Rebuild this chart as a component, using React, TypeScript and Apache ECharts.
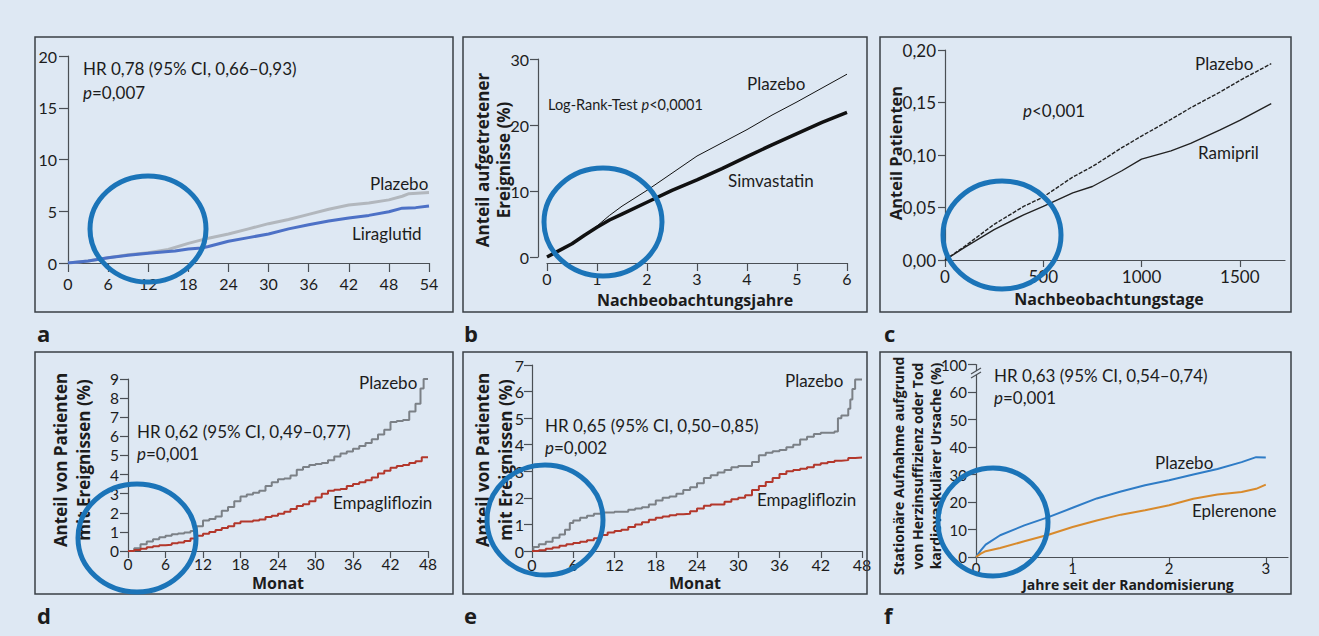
import React, { useEffect, useRef } from "react";
import * as echarts from "echarts";

const FONT = "Lato, 'Noto Sans', sans-serif";
const BOLDFONT = "'Open Sans', 'Noto Sans', sans-serif";
const BG = "#dee8f3";

// ---- Panel a (Monate) ----
const aPlazeboX = [0, 3, 6, 9, 12, 15, 18, 21, 24, 27, 30, 33, 36, 39, 42, 45, 48, 50, 51, 54];
const aPlazeboY = [0, 0.2, 0.5, 0.8, 1.0, 1.3, 1.9, 2.4, 2.8, 3.3, 3.8, 4.2, 4.7, 5.2, 5.6, 5.8, 6.1, 6.45, 6.7, 6.8];
const aLiraX = [0, 3, 6, 9, 12, 15, 16, 18, 20, 21, 24, 27, 30, 33, 36, 39, 42, 45, 48, 50, 52, 54];
const aLiraY = [0, 0.2, 0.5, 0.75, 0.95, 1.1, 1.15, 1.35, 1.45, 1.6, 2.1, 2.45, 2.8, 3.3, 3.7, 4.05, 4.35, 4.6, 4.95, 5.3, 5.35, 5.5];
const aXTicks = { min: 0, max: 54, interval: 6 };
const aYTicks = { min: 0, max: 20, interval: 5 };

// ---- Panel b (Jahre) ----
const bYears = [0, 0.25, 0.5, 0.75, 1, 1.25, 1.5, 2, 2.5, 3, 3.5, 4, 4.5, 5, 5.5, 6];
const bPlazebo = [0, 1.0, 2.0, 3.3, 4.7, 6.3, 7.7, 10.1, 12.7, 15.3, 17.3, 19.3, 21.5, 23.5, 25.6, 27.7];
const bSimva = [0, 1.0, 2.0, 3.3, 4.5, 5.6, 6.5, 8.3, 10.1, 11.7, 13.4, 15.2, 17.0, 18.7, 20.4, 21.9];

// ---- Panel c (Tage) ----
const cDays = [0, 100, 250, 400, 500, 650, 750, 900, 1000, 1150, 1250, 1400, 1500, 1660];
const cPlazebo = [0, 0.013, 0.034, 0.051, 0.060, 0.079, 0.089, 0.107, 0.118, 0.134, 0.145, 0.160, 0.171, 0.187];
const cRamipril = [0, 0.012, 0.029, 0.043, 0.051, 0.064, 0.070, 0.085, 0.096, 0.104, 0.111, 0.124, 0.133, 0.149];

// ---- Panel d (Monat, Stufen) ----
const dPlazeboX = [0, 1, 2, 3, 4, 5, 6, 7, 8, 9, 10, 11, 12, 13, 14, 15, 16, 17, 18, 19, 20, 21, 22, 23, 24, 25, 26, 27, 28, 29, 30, 31, 32, 33, 34, 35, 36, 37, 38, 39, 40, 41, 42, 43, 44, 45, 46, 46.8, 47.3, 48];
const dPlazeboY = [0, 0.15, 0.35, 0.5, 0.62, 0.72, 0.8, 0.88, 0.92, 0.97, 1.05, 1.3, 1.6, 1.68, 1.8, 2.1, 2.3, 2.6, 2.85, 2.95, 3.05, 3.15, 3.4, 3.6, 3.75, 3.8, 3.95, 4.25, 4.4, 4.5, 4.55, 4.6, 4.75, 4.95, 5.1, 5.2, 5.35, 5.5, 5.65, 5.85, 6.1, 6.35, 6.75, 6.8, 6.85, 7.3, 7.7, 8.5, 9.0, 9.0];
const dEmpaX = [0, 1, 2, 3, 4, 5, 6, 7, 8, 9, 10, 11, 12, 13, 14, 15, 16, 17, 18, 19, 20, 21, 22, 23, 24, 25, 26, 27, 28, 29, 30, 31, 32, 33, 34, 35, 36, 37, 38, 39, 40, 41, 42, 43, 44, 45, 46, 47, 48];
const dEmpaY = [0, 0.05, 0.12, 0.2, 0.25, 0.3, 0.33, 0.4, 0.45, 0.52, 0.65, 0.8, 0.9, 1.0, 1.1, 1.2, 1.3, 1.45, 1.55, 1.55, 1.6, 1.65, 1.78, 1.85, 1.95, 2.05, 2.2, 2.35, 2.45, 2.6, 2.8, 3.0, 3.15, 3.2, 3.25, 3.4, 3.5, 3.6, 3.7, 3.85, 4.05, 4.2, 4.35, 4.45, 4.5, 4.6, 4.7, 4.9, 4.9];

// ---- Panel e (Monat, Stufen) ----
const ePlazeboX = [0, 0.2, 1, 2, 3, 4, 4.8, 5.5, 6, 7, 8, 9, 10, 12, 14, 15, 16, 17, 18, 19, 20, 21, 22, 23, 24, 25, 26, 27, 28, 29, 30, 31, 32, 33, 34, 35, 36, 37, 38, 39, 40, 41, 42, 43, 44, 44.5, 45, 46, 46.3, 46.6, 47, 48];
const ePlazeboY = [0, 0.15, 0.25, 0.35, 0.5, 0.62, 0.8, 1.05, 1.15, 1.25, 1.33, 1.4, 1.45, 1.48, 1.55, 1.6, 1.65, 1.75, 1.9, 2.0, 2.05, 2.15, 2.3, 2.4, 2.55, 2.75, 2.85, 2.95, 3.05, 3.15, 3.2, 3.2, 3.35, 3.6, 3.7, 3.75, 3.8, 3.9, 4.0, 4.2, 4.3, 4.4, 4.45, 4.45, 4.5, 5.0, 5.1, 5.35, 5.7, 6.1, 6.45, 6.45];
const eEmpaX = [0, 1, 2, 3, 4, 5, 6, 7, 8, 9, 10, 11, 12, 13, 14, 15, 16, 17, 18, 19, 20, 21, 22, 23, 24, 25, 26, 27, 28, 29, 30, 31, 32, 33, 34, 35, 36, 37, 38, 39, 40, 41, 42, 43, 44, 45, 46, 47, 48];
const eEmpaY = [0, 0.03, 0.08, 0.13, 0.2, 0.25, 0.3, 0.35, 0.4, 0.48, 0.6, 0.7, 0.75, 0.8, 0.9, 1.0, 1.08, 1.18, 1.25, 1.3, 1.35, 1.38, 1.4, 1.5, 1.6, 1.7, 1.75, 1.75, 1.85, 1.95, 2.0, 2.1, 2.3, 2.45, 2.6, 2.75, 2.9, 3.0, 3.05, 3.1, 3.15, 3.25, 3.3, 3.35, 3.4, 3.42, 3.5, 3.52, 3.52];

// ---- Panel f (Jahre) ----
const fYears = [0, 0.05, 0.1, 0.25, 0.5, 0.75, 1, 1.25, 1.5, 1.75, 2, 2.25, 2.5, 2.75, 2.9, 3];
const fPlazebo = [0, 2.4, 4.5, 7.9, 11.5, 14.5, 17.9, 21.3, 23.8, 26.1, 27.9, 30, 32, 34.5, 36.3, 36.2];
const fEplerenone = [0, 1.2, 2.1, 3.3, 5.7, 8.1, 10.9, 13.3, 15.4, 17, 18.8, 21.2, 22.7, 23.6, 24.8, 26.3];
const fTopTickLabel = "100";

const pairs = (xs: number[], ys: number[]) => xs.map((x, i) => [x, ys[i]]);

const AXIS_COLOR = "#4a4f55";
const TEXT_COLOR = "#1c1c1c";

function axis(gridIndex: number, min: number, max: number, interval: number, o: any = {}) {
  return {
    type: "value",
    gridIndex,
    min,
    max,
    interval,
    offset: o.offset || 0,
    axisLine: { show: true, onZero: false, lineStyle: { color: AXIS_COLOR, width: 1.2 } },
    axisTick: { show: true, length: o.tick || 8, lineStyle: { color: AXIS_COLOR, width: 1.2 } },
    axisLabel: {
      color: TEXT_COLOR,
      fontSize: o.fontSize || 15,
      fontFamily: FONT,
      margin: o.margin || 10,
      formatter: o.formatter || ((v: number) => String(v)),
      showMaxLabel: o.showMax === undefined ? true : o.showMax,
    },
    splitLine: { show: false },
  };
}

function line(xi: number, data: number[][], color: string, width: number, o: any = {}) {
  return {
    type: "line",
    xAxisIndex: xi,
    yAxisIndex: xi,
    data,
    symbol: "none",
    showSymbol: false,
    step: o.step || false,
    lineStyle: { color, width, type: o.dash || "solid" },
    z: 3,
  };
}

function txt(text: string, x: number, y: number, o: any = {}) {
  const size = o.size || 17;
  const fam = o.bold ? BOLDFONT : FONT;
  return {
    type: "text",
    x,
    y,
    rotation: o.rot || 0,
    z: 50,
    silent: true,
    style: {
      text,
      fill: TEXT_COLOR,
      fontSize: size,
      fontFamily: fam,
      fontWeight: o.bold ? "bold" : "normal",
      lineHeight: size,
      align: o.align || "left",
      verticalAlign: "middle",
      rich: {
        i: { fontStyle: "italic", fontSize: size, fontFamily: fam, fill: TEXT_COLOR, lineHeight: size },
        n: { fontSize: size, fontFamily: fam, fill: TEXT_COLOR, lineHeight: size },
      },
    },
  };
}

function box(x: number, y: number, w: number, h: number) {
  return {
    type: "rect",
    z: 1,
    silent: true,
    shape: { x, y, width: w, height: h },
    style: { fill: "none", stroke: "#3a3f45", lineWidth: 1.5 },
  };
}

function ring(cx: number, cy: number, rx: number, ry: number) {
  return {
    type: "ellipse",
    z: 100,
    silent: true,
    shape: { cx, cy, rx, ry },
    style: { fill: "none", stroke: "#1b74b8", lineWidth: 5 },
  };
}

const ROT = Math.PI / 2;

export default function App() {
  const ref = useRef<HTMLDivElement>(null);
  useEffect(() => {
    if (!ref.current) return;
    const chart = echarts.init(ref.current, undefined, { renderer: "svg" });
    const comma2 = (v: number) => v.toFixed(2).replace(".", ",");
    const option: any = {
      animation: false,
      backgroundColor: BG,
      grid: [
        { left: 68, top: 56, width: 361, height: 207 },
        { left: 547, top: 59, width: 300, height: 198 },
        { left: 945, top: 50, width: 340, height: 210 },
        { left: 128, top: 379, width: 300, height: 172 },
        { left: 532, top: 365, width: 330, height: 186 },
        { left: 976, top: 364.5, width: 312, height: 192.5 },
      ],
      xAxis: [
        axis(0, aXTicks.min, aXTicks.max, aXTicks.interval, { margin: 12, tick: 9, fontSize: 16 }),
        axis(1, 0, 6, 1, { offset: 6, margin: 7, fontSize: 16 }),
        axis(2, 0, 1730, 500, { margin: 8, tick: 7, showMax: false, fontSize: 17 }),
        axis(3, 0, 48, 6, { margin: 5, tick: 7, fontSize: 15.5 }),
        axis(4, 0, 48, 6, { margin: 5, tick: 7, fontSize: 16 }),
        axis(5, 0, 3.23, 1, { margin: 3, tick: 7, showMax: false, fontSize: 15 }),
      ],
      yAxis: [
        axis(0, aYTicks.min, aYTicks.max, aYTicks.interval, { margin: 11, tick: 9, fontSize: 16 }),
        axis(1, 0, 30, 10, { offset: 9, margin: 9, fontSize: 16 }),
        axis(2, 0, 0.2, 0.05, { margin: 9, tick: 7, formatter: comma2, fontSize: 17 }),
        axis(3, 0, 9, 1, { margin: 9, fontSize: 15.5 }),
        axis(4, 0, 7, 1, { margin: 8, fontSize: 16 }),
        axis(5, 0, 70, 10, {
          margin: 9,
          fontSize: 15,
          formatter: (v: number) => (v === 70 ? fTopTickLabel : String(v)),
        }),
      ],
      series: [
        line(0, pairs(aPlazeboX, aPlazeboY), "#b2b7bd", 3),
        line(0, pairs(aLiraX, aLiraY), "#4d71c6", 3),
        line(1, pairs(bYears, bPlazebo), "#111", 1),
        line(1, pairs(bYears, bSimva), "#111", 3.5),
        line(2, pairs(cDays, cPlazebo), "#222", 1.4, { dash: [4, 1.5] }),
        line(2, pairs(cDays, cRamipril), "#222", 1.4),
        line(3, pairs(dPlazeboX, dPlazeboY), "#7b8086", 2, { step: "end" }),
        line(3, pairs(dEmpaX, dEmpaY), "#b3372b", 2, { step: "end" }),
        line(4, pairs(ePlazeboX, ePlazeboY), "#7b8086", 2, { step: "end" }),
        line(4, pairs(eEmpaX, eEmpaY), "#b3372b", 2, { step: "end" }),
        line(5, pairs(fYears, fPlazebo), "#2f7cc6", 2),
        line(5, pairs(fYears, fEplerenone), "#d88a2c", 2),
      ],
      graphic: [
        box(35, 37, 418, 275),
        box(463, 37, 404, 275),
        box(880, 37, 411, 275),
        box(35, 352, 418, 242),
        box(463, 352, 404, 242),
        box(880, 352, 411, 242),
        // panel letters
        txt("a", 37, 333, { bold: true, size: 22 }),
        txt("b", 464, 333, { bold: true, size: 22 }),
        txt("c", 884, 333, { bold: true, size: 22 }),
        txt("d", 37, 615, { bold: true, size: 22 }),
        txt("e", 464, 615, { bold: true, size: 22 }),
        txt("f", 884, 615, { bold: true, size: 22 }),
        // panel a
        txt("HR 0,78 (95% CI, 0,66–0,93)", 83, 68),
        txt("{i|p}{n|=0,007}", 83, 92),
        txt("Plazebo", 370, 183),
        txt("Liraglutid", 352, 233),
        // panel b
        txt("{n|Log-Rank-Test }{i|p}{n|<0,0001}", 548, 104, { size: 14.5 }),
        txt("Plazebo", 747, 83),
        txt("Simvastatin", 728, 180),
        txt("Anteil aufgetretener", 482, 160, { bold: true, size: 17, rot: ROT, align: "center" }),
        txt("Ereignisse (%)", 503, 160, { bold: true, size: 17, rot: ROT, align: "center" }),
        txt("Nachbeobachtungsjahre", 695, 300, { bold: true, size: 16, align: "center" }),
        // panel c
        txt("{i|p}{n|<0,001}", 1023, 110),
        txt("Plazebo", 1195, 63),
        txt("Ramipril", 1198, 152),
        txt("Anteil Patienten", 895, 153, { bold: true, size: 16.5, rot: ROT, align: "center" }),
        txt("Nachbeobachtungstage", 1109, 299, { bold: true, size: 16, align: "center" }),
        // panel d
        txt("HR 0,62 (95% CI, 0,49–0,77)", 137, 431),
        txt("{i|p}{n|=0,001}", 137, 453),
        txt("Plazebo", 359, 382),
        txt("Empagliflozin", 333, 502),
        txt("Anteil von Patienten", 60, 460, { bold: true, size: 17, rot: ROT, align: "center" }),
        txt("mit Ereignissen (%)", 83, 460, { bold: true, size: 17, rot: ROT, align: "center" }),
        txt("Monat", 278, 583, { bold: true, size: 16, align: "center" }),
        // panel e
        txt("HR 0,65 (95% CI, 0,50–0,85)", 545, 425),
        txt("{i|p}{n|=0,002}", 545, 447),
        txt("Plazebo", 785, 380),
        txt("Empagliflozin", 757, 499),
        txt("Anteil von Patienten", 482, 460, { bold: true, size: 17, rot: ROT, align: "center" }),
        txt("mit Ereignissen (%)", 505, 460, { bold: true, size: 17, rot: ROT, align: "center" }),
        txt("Monat", 695, 583, { bold: true, size: 16, align: "center" }),
        // panel f
        txt("HR 0,63 (95% CI, 0,54–0,74)", 994, 375),
        txt("{i|p}{n|=0,001}", 994, 397),
        txt("Plazebo", 1155, 462),
        txt("Eplerenone", 1192, 510),
        txt("Stationäre Aufnahme aufgrund", 898, 466, { bold: true, size: 14, rot: ROT, align: "center" }),
        txt("von Herzinsuffizienz oder Tod", 917, 466, { bold: true, size: 14, rot: ROT, align: "center" }),
        txt("kardiovaskulärer Ursache (%)", 935, 466, { bold: true, size: 14, rot: ROT, align: "center" }),
        txt("Jahre seit der Randomisierung", 1128, 584, { bold: true, size: 14, align: "center" }),
        // axis break marks on f
        { type: "rect", z: 20, silent: true, shape: { x: 973, y: 371, width: 6, height: 4 }, style: { fill: BG } },
        { type: "line", z: 21, silent: true, shape: { x1: 971, y1: 374, x2: 981, y2: 368 }, style: { stroke: AXIS_COLOR, lineWidth: 1.2 } },
        { type: "line", z: 21, silent: true, shape: { x1: 971, y1: 378, x2: 981, y2: 372 }, style: { stroke: AXIS_COLOR, lineWidth: 1.2 } },
        // highlight rings
        ring(148, 229, 58, 53),
        ring(603, 222, 59, 54),
        ring(1002, 235, 59, 54),
        ring(137, 538, 59, 54),
        ring(545, 520, 58, 55),
        ring(993, 522, 55, 54),
      ],
    };
    chart.setOption(option);
    return () => chart.dispose();
  }, []);
  return (
    <div
      ref={ref}
      style={{ position: "fixed", left: 0, top: 0, width: 1319, height: 636 }}
    />
  );
}
